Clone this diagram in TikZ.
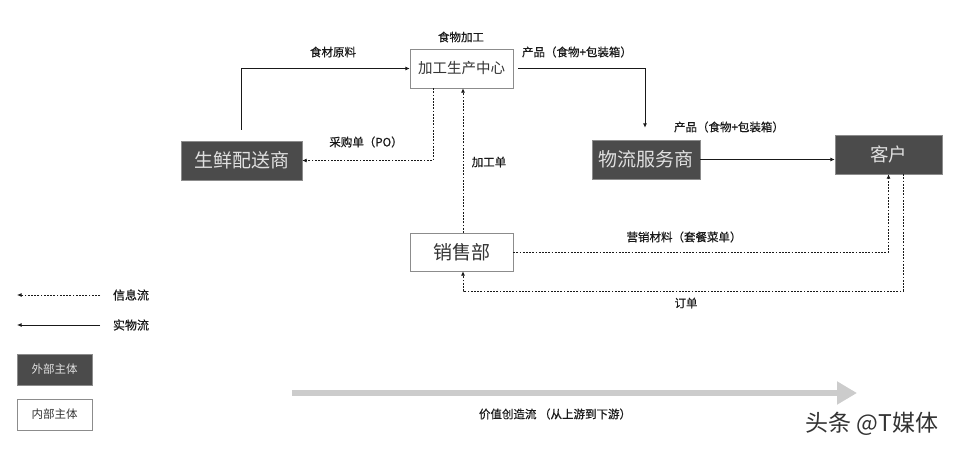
\documentclass[tikz,border=0pt]{standalone}
\usepackage{fontspec}
\setmainfont{Noto Sans CJK SC}
\newfontfamily\lblfont[FakeBold=0.6]{Noto Sans CJK SC}
\usetikzlibrary{arrows.meta}
\definecolor{darkbox}{HTML}{4B4B4B}
\definecolor{boxline}{HTML}{8C8C8C}
\begin{document}
\begin{tikzpicture}[x=1pt,y=-1pt,
    outer/.style={rectangle, draw=boxline, fill=darkbox, text=white!88!black, inner sep=0pt},
    inner/.style={rectangle, draw=boxline, fill=white, text=black!80, inner sep=0pt},
    info/.style={draw=black!90, line width=0.9pt, dash pattern=on 1.8pt off 1.4pt, -{Latex[length=4.5pt,width=4pt]}},
    real/.style={draw=black!90, line width=0.9pt, -{Latex[length=4.5pt,width=4pt]}},
    lbl/.style={font=\lblfont\fontsize{11.5}{12}\selectfont, text=black!90}]
    \useasboundingbox (0,0) rectangle (959,450);
    % boxes
    \node (fresh) [outer, minimum width=121pt, minimum height=39pt, font=\fontsize{19}{20}\selectfont] at (241.5,160.5) {生鲜配送商};
    \node (plant) [inner, minimum width=103pt, minimum height=39pt, font=\fontsize{14.5}{15}\selectfont] at (461.5,68.5) {加工生产中心};
    \node (logi) [outer, minimum width=108pt, minimum height=39pt, font=\fontsize{19}{20}\selectfont] at (646,159.5) {物流服务商};
    \node (client) [outer, minimum width=107pt, minimum height=39pt, font=\fontsize{18.5}{19}\selectfont] at (888.5,154.5) {客户};
    \node (sales) [inner, minimum width=103pt, minimum height=38pt, font=\fontsize{19}{20}\selectfont] at (461.5,252) {销售部};
    % labels
    \node (lplant) [lbl] at (461,37) {食物加工};
    \node (lfood) [lbl] at (333,52) {食材原料};
    \node (lpo) [lbl] at (366,142) {采购单（PO）};
    \node (lwork) [lbl] at (489,162) {加工单};
    \node (lprod) [lbl] at (577,52) {产品（食物+包装箱）};
    \node (lship) [lbl] at (729,127) {产品（食物+包装箱）};
    \node (lmkt) [lbl] at (684,237) {营销材料（套餐菜单）};
    \node (lorder) [lbl] at (686,303) {订单};
    % flows
    \draw[real] ([yshift=11pt]fresh.north) |- (plant.west);
    \draw[info] ([xshift=-28.5pt]plant.south) |- (fresh.east);
    \draw[info] ([xshift=1.5pt]sales.north) -- ([xshift=1.5pt]plant.south);
    \draw[real] ([xshift=5pt]plant.east) -| ([xshift=-1pt,yshift=12pt]logi.north);
    \draw[real] (logi.east) -- (logi.east -| client.west);
    \draw[info] (sales.east) -| (client.south);
    \coordinate (turn) at (903,291);
    \draw[info] ([xshift=14.5pt]client.south) -- (turn) -| ([xshift=1.5pt]sales.south);
    % legend
    \node (linfo) [lbl, font=\lblfont\fontsize{12}{12}\selectfont] at (131,295) {信息流};
    \node (lreal) [lbl, font=\lblfont\fontsize{12}{12}\selectfont] at (131,325) {实物流};
    \coordinate (ia) at (100,295);
    \coordinate (ib) at (17,295);
    \coordinate (ra) at (100,325);
    \coordinate (rb) at (17,325);
    \draw[info] (ia) -- (ib);
    \draw[real] (ra) -- (rb);
    \node (kout) [outer, minimum width=75pt, minimum height=31pt, font=\fontsize{11.5}{12}\selectfont] at (54.5,369.5) {外部主体};
    \node (kin) [inner, minimum width=75pt, minimum height=31pt, font=\fontsize{11.5}{12}\selectfont] at (54.5,414.5) {内部主体};
    % value stream
    \coordinate (va) at (292,393);
    \coordinate (vb) at (857,393);
    \draw[black!20, line width=6pt, -{Triangle[length=20pt,width=22pt]}] (va) -- (vb);
    \node (lvalue) [lbl] at (555,414) {价值创造流 （从上游到下游）};
    \node (mark) [font=\fontsize{23}{24}\selectfont, text=black!80] at (872,424) {头条 @T媒体};
\end{tikzpicture}
\end{document}
